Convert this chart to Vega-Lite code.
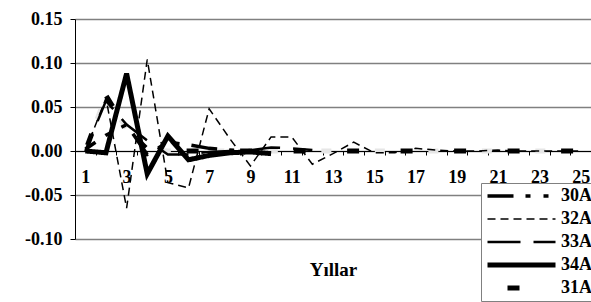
{
  "$schema": "https://vega.github.io/schema/vega-lite/v6.json",
  "width": 516,
  "height": 220,
  "autosize": {"type": "none"},
  "padding": {"left": 75, "top": 19, "right": 0, "bottom": 63},
  "background": "white",
  "config": {
    "font": "Liberation Serif",
    "view": {"stroke": null}
  },
  "data": {
    "values": [
      {"t":1,"s":"30A","v":0.002},{"t":2,"s":"30A","v":0.018},{"t":3,"s":"30A","v":0.030},{"t":4,"s":"30A","v":-0.004},{"t":5,"s":"30A","v":0.010},{"t":6,"s":"30A","v":0.007},{"t":7,"s":"30A","v":0.003},{"t":8,"s":"30A","v":0.001},{"t":9,"s":"30A","v":0},
      {"t":1,"s":"32A","v":0},{"t":2,"s":"32A","v":0.060},{"t":3,"s":"32A","v":-0.065},{"t":4,"s":"32A","v":0.104},{"t":5,"s":"32A","v":-0.036},{"t":6,"s":"32A","v":-0.042},{"t":7,"s":"32A","v":0.048},{"t":8,"s":"32A","v":0.014},{"t":9,"s":"32A","v":-0.017},{"t":10,"s":"32A","v":0.016},{"t":11,"s":"32A","v":0.016},{"t":12,"s":"32A","v":-0.015},{"t":13,"s":"32A","v":-0.003},{"t":14,"s":"32A","v":0.010},{"t":15,"s":"32A","v":-0.002},{"t":16,"s":"32A","v":-0.002},{"t":17,"s":"32A","v":0.003},{"t":18,"s":"32A","v":0.001},{"t":19,"s":"32A","v":0},{"t":20,"s":"32A","v":0},{"t":21,"s":"32A","v":0.001},{"t":22,"s":"32A","v":0},{"t":23,"s":"32A","v":0},{"t":24,"s":"32A","v":0},{"t":25,"s":"32A","v":0},
      {"t":1,"s":"33A","v":0},{"t":2,"s":"33A","v":0.057},{"t":3,"s":"33A","v":0.030},{"t":4,"s":"33A","v":0.012},{"t":5,"s":"33A","v":-0.004},{"t":6,"s":"33A","v":-0.004},{"t":7,"s":"33A","v":-0.001},{"t":8,"s":"33A","v":0},{"t":9,"s":"33A","v":0.001},{"t":10,"s":"33A","v":0.004},{"t":11,"s":"33A","v":0.003},{"t":12,"s":"33A","v":0.001},
      {"t":1,"s":"34A","v":0},{"t":2,"s":"34A","v":-0.002},{"t":3,"s":"34A","v":0.088},{"t":4,"s":"34A","v":-0.026},{"t":5,"s":"34A","v":0.017},{"t":6,"s":"34A","v":-0.010},{"t":7,"s":"34A","v":-0.005},{"t":8,"s":"34A","v":-0.002},{"t":9,"s":"34A","v":-0.001},{"t":10,"s":"34A","v":-0.003},
      {"t":1,"s":"31A","v":0},{"t":2,"s":"31A","v":0.063},{"t":3,"s":"31A","v":0.025},{"t":4,"s":"31A","v":0.002},{"t":5,"s":"31A","v":0},{"t":6,"s":"31A","v":0},{"t":7,"s":"31A","v":0},{"t":8,"s":"31A","v":0},{"t":9,"s":"31A","v":0},{"t":10,"s":"31A","v":0},{"t":11,"s":"31A","v":0},{"t":12,"s":"31A","v":0},{"t":13,"s":"31A","v":0},{"t":14,"s":"31A","v":0},{"t":15,"s":"31A","v":0},{"t":16,"s":"31A","v":0},{"t":17,"s":"31A","v":0},{"t":18,"s":"31A","v":0},{"t":19,"s":"31A","v":0},{"t":20,"s":"31A","v":0},{"t":21,"s":"31A","v":0},{"t":22,"s":"31A","v":0},{"t":23,"s":"31A","v":0},{"t":24,"s":"31A","v":0},{"t":25,"s":"31A","v":0}
    ]
  },
  "encoding": {
    "x": {
      "field": "t",
      "type": "ordinal",
      "scale": {"type": "band", "paddingInner": 0, "paddingOuter": 0, "domain": [1,2,3,4,5,6,7,8,9,10,11,12,13,14,15,16,17,18,19,20,21,22,23,24,25]},
      "axis": {
        "title": "Yıllar",
        "offset": -88,
        "labelExpr": "datum.value % 2 == 1 ? datum.label : ''",
        "labelAngle": 0,
        "labelOverlap": false,
        "labelFont": "Liberation Serif",
        "labelFontSize": 18,
        "labelFontWeight": "bold",
        "labelColor": "black",
        "labelPadding": 13,
        "tickBand": "extent",
        "tickSize": 4,
        "tickColor": "black",
        "domainColor": "black",
        "domainWidth": 1,
        "grid": false,
        "titleFont": "Liberation Serif",
        "titleFontSize": 19,
        "titleFontWeight": "bold",
        "titleColor": "black",
        "titlePadding": 74
      }
    },
    "y": {
      "field": "v",
      "type": "quantitative",
      "scale": {"domain": [-0.1, 0.15], "nice": false, "zero": false},
      "axis": {
        "title": null,
        "values": [-0.1, -0.05, 0, 0.05, 0.1, 0.15],
        "format": ".2f",
        "labelExpr": "replace(datum.label, '−', '-')",
        "labelFont": "Liberation Serif",
        "labelFontSize": 18,
        "labelFontWeight": "bold",
        "labelColor": "black",
        "labelPadding": 8,
        "tickSize": 5,
        "tickColor": "black",
        "domainColor": "black",
        "grid": true,
        "gridColor": "#808080",
        "gridWidth": 1.3
      }
    }
  },
  "layer": [
    {
      "transform": [{"filter": "datum.s == '31A'"}],
      "mark": {"type": "line", "stroke": "#e6e6e6", "strokeWidth": 5, "strokeDash": [10, 43.5], "strokeDashOffset": 19.45},
      "encoding": {}
    },
    {
      "mark": {"type": "line", "stroke": "black", "strokeDashOffset": 13.7},
      "encoding": {
        "strokeDash": {
          "field": "s", "type": "nominal",
          "scale": {"domain": ["30A", "32A", "33A", "34A", "31A"], "range": [[26, 12, 5, 13, 5, 12], [8, 5], [33, 13], [1, 0], [0, 20, 12, 21.5]]},
          "legend": {
            "title": null, "orient": "none", "legendX": 406, "legendY": 164,
            "symbolType": "stroke", "symbolSize": 4624, "clipHeight": 18,
            "symbolStrokeColor": "black",
            "labelFont": "Liberation Serif", "labelFontSize": 18, "labelFontWeight": "bold", "labelColor": "black",
            "fillColor": "white", "strokeColor": "#808080", "padding": 4, "rowPadding": 5, "labelOffset": 3,
            "encode": {"symbols": {"update": {"strokeWidth": {"signal": "(datum.value === '32A' ? 1.5 : (datum.value === '33A' ? 2.5 : (datum.value === '30A' ? 3.5 : 5)))"}}}}
          }
        },
        "strokeWidth": {
          "field": "s", "type": "nominal",
          "scale": {"type": "ordinal", "domain": ["30A", "32A", "33A", "34A", "31A"], "range": [3.5, 1.5, 2.5, 5, 5]},
          "legend": null
        }
      }
    }
  ]
}
